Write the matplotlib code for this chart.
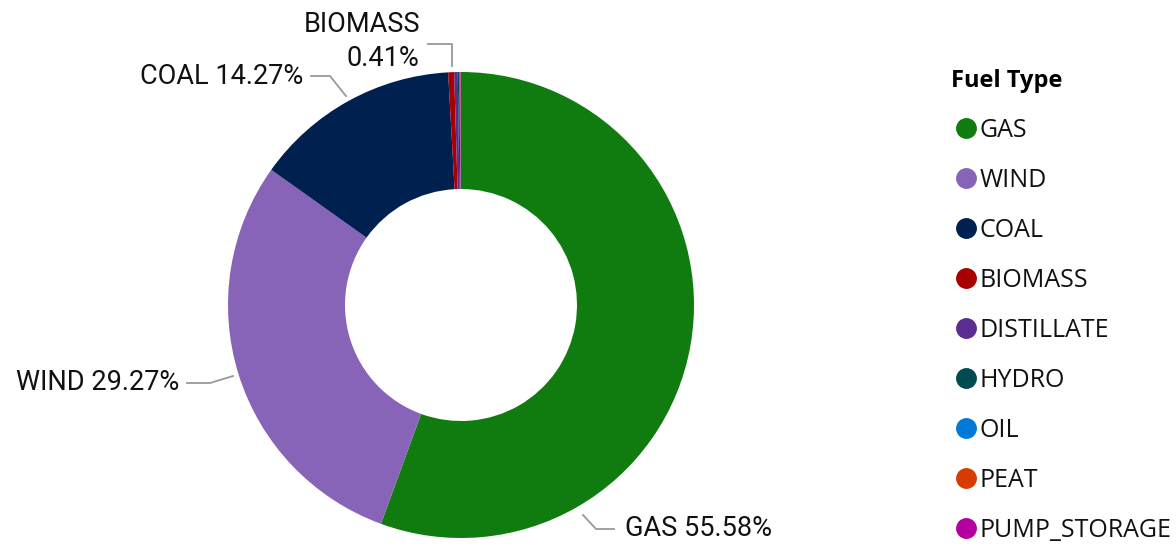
import matplotlib.pyplot as plt
from matplotlib.lines import Line2D

# parts de production par type de combustible (%)
fuels = ["GAS", "WIND", "COAL", "BIOMASS", "DISTILLATE", "HYDRO", "OIL", "PEAT", "PUMP_STORAGE"]
shares = [55.58, 29.27, 14.27, 0.41, 0.25, 0.12, 0.04, 0.03, 0.03]
colors = ["#107C10", "#8764B8", "#002050", "#A80000", "#5C2D91",
          "#004B50", "#0078D7", "#D83B01", "#B4009E"]

W, H = 1176, 546
fig = plt.figure(figsize=(W / 100, H / 100), dpi=100)
ax = fig.add_axes([0, 0, 1, 1])

wedges, _ = ax.pie(shares, colors=colors, startangle=90, counterclock=False,
                   center=(461, H - 305), radius=233, frame=True,
                   wedgeprops=dict(width=117, linewidth=0))
ax.set_xlim(0, W)
ax.set_ylim(0, H)
ax.set_aspect("equal")
ax.axis("off")

lab_font = dict(family="Roboto", size=19.5, color="#111111")
line_kw = dict(color="#999999", lw=1.3)

def py(y):
    return H - y

# etiquettes + lignes de rappel (positions en pixels)
pct = {f: s for f, s in zip(fuels, shares)}
ax.plot([583, 596, 614], [py(515), py(529), py(529)], **line_kw)
ax.text(625, py(529), f"GAS {pct['GAS']:.2f}%", va="center", ha="left", **lab_font)
ax.plot([233, 210, 187], [py(376), py(383), py(383)], **line_kw)
ax.text(179, py(383), f"WIND {pct['WIND']:.2f}%", va="center", ha="right", **lab_font)
ax.plot([346, 330, 311], [py(96), py(76), py(76)], **line_kw)
ax.text(303, py(76), f"COAL {pct['COAL']:.2f}%", va="center", ha="right", **lab_font)
ax.plot([452, 452, 428], [py(66), py(44), py(44)], **line_kw)
ax.text(362, py(24), "BIOMASS", va="center", ha="center", **lab_font)
ax.text(383, py(58), f"{pct['BIOMASS']:.2f}%", va="center", ha="center", **lab_font)

handles = [Line2D([], [], marker="o", ls="", markersize=14, color=c) for c in colors]
leg = ax.legend(handles, fuels, loc="upper left", bbox_to_anchor=(951 / W, 1 - 69 / H),
                frameon=False, title="Fuel Type", alignment="left",
                prop=dict(family="Open Sans", size=18), labelspacing=1.0,
                handletextpad=-0.06, handlelength=1.2, borderaxespad=0, borderpad=0)
leg.get_title().set_fontfamily("Open Sans")
leg.get_title().set_fontweight("bold")
leg.get_title().set_fontsize(17)
for t in leg.get_texts():
    t.set_color("#111111")

fig.savefig("out.png", dpi=100)
